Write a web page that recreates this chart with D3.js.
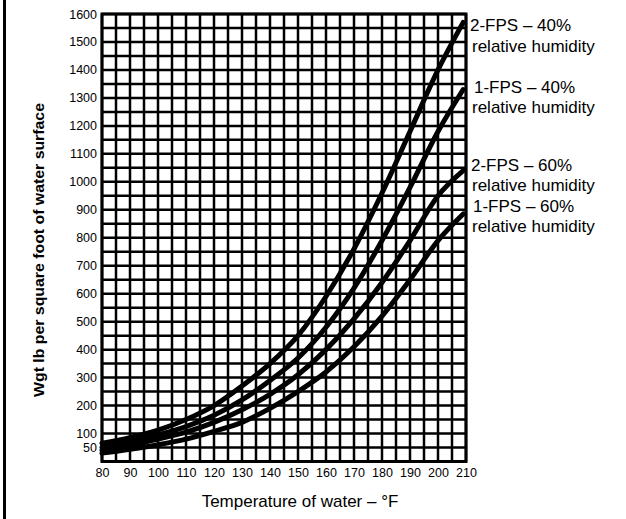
<!DOCTYPE html>
<html><head><meta charset="utf-8">
<script src="https://cdn.jsdelivr.net/npm/d3@7"></script>
<style>body{margin:0;background:#fff}svg{display:block}</style>
</head><body>
<script>
const temps = [80, 90, 100, 110, 120, 130, 140, 150, 160, 170, 180, 190, 200, 209];
const fps2rh40 = [65, 85, 112, 150, 200, 270, 350, 450, 590, 760, 960, 1180, 1400, 1570];
const fps1rh40 = [50, 70, 95, 125, 165, 220, 290, 370, 480, 620, 790, 980, 1180, 1330];
const fps2rh60 = [40, 58, 80, 105, 140, 185, 240, 310, 400, 510, 640, 790, 950, 1040];
const fps1rh60 = [30, 44, 60, 80, 108, 140, 190, 250, 320, 410, 520, 650, 790, 885];
const seriesNames = [["2-FPS – 40%", "relative humidity"], ["1-FPS – 40%", "relative humidity"], ["2-FPS – 60%", "relative humidity"], ["1-FPS – 60%", "relative humidity"]];
const xTicks = [80, 90, 100, 110, 120, 130, 140, 150, 160, 170, 180, 190, 200, 210];
const yTicks = [50, 100, 200, 300, 400, 500, 600, 700, 800, 900, 1000, 1100, 1200, 1300, 1400, 1500, 1600];
const xTitle = "Temperature of water – °F";
const yTitle = "Wgt lb per square foot of water surface";

const W = 626, H = 519;
const svg = d3.select("body").append("svg").attr("width", W).attr("height", H);
const x = d3.scaleLinear().domain([80, 210]).range([102, 466]);
const y = d3.scaleLinear().domain([0, 1600]).range([461.5, 14]);
const font = "'Liberation Sans', Arial, sans-serif";

// left frame line
svg.append("line").attr("x1", 4.5).attr("x2", 4.5).attr("y1", 0).attr("y2", H)
  .attr("stroke", "#000").attr("stroke-width", 3);

// grid
const g = svg.append("g");
g.selectAll(".vg").data(d3.range(80, 211, 5)).join("line")
  .attr("x1", d => x(d)).attr("x2", d => x(d)).attr("y1", y(0)).attr("y2", y(1600))
  .attr("stroke", "#000").attr("stroke-width", 2.5);
g.selectAll(".hg").data(d3.range(0, 1601, 50)).join("line")
  .attr("x1", x(80)).attr("x2", x(210)).attr("y1", d => y(d)).attr("y2", d => y(d))
  .attr("stroke", "#000").attr("stroke-width", 2.5);
g.append("rect").attr("x", x(80)).attr("y", y(1600)).attr("width", x(210) - x(80)).attr("height", y(0) - y(1600))
  .attr("fill", "none").attr("stroke", "#000").attr("stroke-width", 3);

// axes (labels only)
const xAxis = d3.axisBottom(x).tickValues(xTicks).tickFormat(d3.format("d")).tickSize(0).tickPadding(7);
const xg = svg.append("g").attr("transform", `translate(0,${y(0)})`).call(xAxis);
xg.select(".domain").remove();
xg.selectAll("text").attr("font-family", font).attr("font-size", 12.5).attr("fill", "#000");

const yAxis = d3.axisLeft(y).tickValues(yTicks).tickFormat(d3.format("d")).tickSize(0).tickPadding(5);
const yg = svg.append("g").attr("transform", `translate(${x(80)},0)`).call(yAxis);
yg.select(".domain").remove();
yg.selectAll("text").attr("font-family", font).attr("font-size", 12.5).attr("fill", "#000");

// curves
const allSeries = [fps2rh40, fps1rh40, fps2rh60, fps1rh60];
const line = d3.line().x((d, i) => x(temps[i])).y(d => y(d)).curve(d3.curveMonotoneX);
svg.selectAll(".curve").data(allSeries).join("path")
  .attr("d", d => line(d)).attr("fill", "none").attr("stroke", "#000")
  .attr("stroke-width", 5).attr("stroke-linecap", "round");

// series labels
const labelPos = [[470, 31, 52], [474, 93, 113], [471, 171, 191], [473, 212, 232]];
seriesNames.forEach((n, i) => {
  svg.append("text").attr("x", labelPos[i][0]).attr("y", labelPos[i][1]).text(n[0])
    .attr("font-family", font).attr("font-size", 17);
  svg.append("text").attr("x", 472).attr("y", labelPos[i][2]).text(n[1])
    .attr("font-family", font).attr("font-size", 17);
});

// titles
svg.append("text").attr("x", 300).attr("y", 507).attr("text-anchor", "middle").text(xTitle)
  .attr("font-family", font).attr("font-size", 17);
svg.append("text").attr("transform", "translate(44,250) rotate(-90)").attr("text-anchor", "middle")
  .attr("font-family", font).attr("font-size", 14).attr("font-weight", "bold")
  .attr("textLength", 294).attr("lengthAdjust", "spacingAndGlyphs").text(yTitle);
</script>
</body></html>
